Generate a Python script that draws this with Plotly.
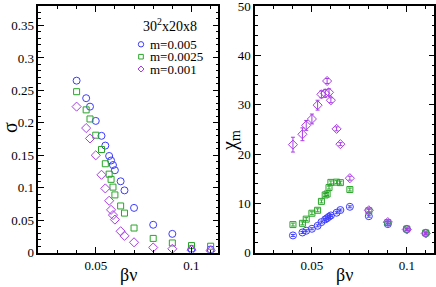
import plotly.graph_objects as go
from plotly.subplots import make_subplots

# ---- data ----
bv = [0.04, 0.045, 0.047, 0.05, 0.053, 0.055, 0.057, 0.058, 0.059, 0.06,
      0.063, 0.065, 0.07, 0.08, 0.09, 0.1, 0.11]

sigma_m005 = [0.265, 0.238, 0.225, 0.203, 0.180, 0.165, 0.149, 0.142, 0.135, 0.127,
              0.110, 0.096, 0.069, 0.043, 0.029, 0.006, 0.005]
sigma_m0025 = [0.248, 0.220, 0.206, 0.181, 0.159, 0.137, 0.121, 0.113, 0.101, 0.089,
               0.072, 0.061, 0.038, 0.022, 0.015, 0.011, 0.010]
sigma_m001 = [0.225, 0.192, 0.176, 0.150, 0.120, 0.099, 0.080, 0.066, 0.058, 0.051,
              0.033, 0.026, 0.016, 0.008, 0.006, 0.004, 0.003]

chi_m005 = [3.5, 4.1, 4.45, 4.85, 5.45, 6.2, 6.75, 7.0, 7.3, 7.55,
            8.1, 8.65, 9.3, 7.4, 5.8, 4.8, 4.0]
chi_m005_err = [0.2, 0.2, 0.2, 0.2, 0.2, 0.2, 0.2, 0.2, 0.2, 0.2,
                0.2, 0.2, 0.2, 0.2, 0.2, 0.2, 0.2]
chi_m0025 = [5.7, 5.95, 6.8, 8.0, 8.6, 10.4, 11.7, 11.9, 13.2, 14.25,
             14.3, 14.2, 12.8, 8.5, 6.1, 4.8, 4.0]
chi_m0025_err = [0.3, 0.3, 0.3, 0.3, 0.3, 0.3, 0.3, 0.3, 0.3, 0.3,
                 0.3, 0.3, 0.3, 0.3, 0.2, 0.2, 0.2]
chi_m001 = [21.9, 24.0, 25.8, 27.1, 29.9, 32.1, 32.3, 34.8, 32.5, 30.9,
            25.1, 22.0, 15.1, 8.6, 6.2, 4.7, 3.9]
chi_m001_err = [1.5, 1.3, 1.0, 1.0, 1.0, 0.7, 0.8, 0.5, 0.7, 0.5,
                0.4, 0.3, 0.4, 0.3, 0.2, 0.2, 0.2]

names = ["m=0.005", "m=0.0025", "m=0.001"]
colors = ["rgb(60,60,255)", "rgb(40,165,40)", "rgb(170,60,230)"]
symbols = ["circle-open", "square-open", "diamond-open"]
sizes = [7, 6, 7]
lattice_label = "30<sup>2</sup>x20x8"
x_title = "βν"
y_titles = ["σ", "χ<sub>m</sub>"]

FONT = "Liberation Serif, Times New Roman, serif"

fig = make_subplots(rows=1, cols=2, horizontal_spacing=0.0)

sig = [sigma_m005, sigma_m0025, sigma_m001]
chi = [chi_m005, chi_m0025, chi_m001]
chierr = [chi_m005_err, chi_m0025_err, chi_m001_err]

for i in range(3):
    fig.add_trace(go.Scatter(
        x=bv, y=sig[i], mode="markers", name=names[i], showlegend=False,
        marker=dict(symbol=symbols[i], size=sizes[i], color=colors[i],
                    line=dict(width=1, color=colors[i]))), row=1, col=1)

for i in range(3):
    fig.add_trace(go.Scatter(
        x=bv, y=chi[i], mode="markers", name=names[i], showlegend=False,
        error_y=dict(type="data", array=chierr[i], color=colors[i],
                     thickness=1, width=2),
        marker=dict(symbol=symbols[i], size=sizes[i], color=colors[i],
                    line=dict(width=1, color=colors[i]))), row=1, col=2)

W, H = 436, 287
def px(xp):
    return xp / W
def py(yp):
    return 1 - yp / H

axis_common = dict(
    showline=True, linecolor="black", linewidth=1.5, mirror="ticks",
    ticks="inside", ticklen=6, tickwidth=1, tickcolor="black",
    showgrid=False, zeroline=False, automargin=False, ticklabeloverflow="allow",
    tickfont=dict(family=FONT, size=13, color="black"),
)

fig.update_xaxes(**axis_common, range=[0.02, 0.114], dtick=0.05, tick0=0,
                 minor=dict(dtick=0.01, tick0=0, ticks="inside", ticklen=3,
                            tickcolor="black", showgrid=False))
fig.update_xaxes(domain=[px(38.3), px(218.3)], row=1, col=1)
fig.update_xaxes(domain=[px(255), px(434.3)], range=[0.02, 0.1145], row=1, col=2)

fig.update_yaxes(**axis_common)
fig.update_yaxes(domain=[py(252.7), py(6)])
fig.update_yaxes(range=[0, 0.38], dtick=0.05, tick0=0,
                 minor=dict(dtick=0.01, tick0=0, ticks="inside", ticklen=3,
                            tickcolor="black", showgrid=False),
                 row=1, col=1)
fig.update_yaxes(range=[0, 50], dtick=10, tick0=0,
                 minor=dict(dtick=2, tick0=0, ticks="inside", ticklen=3,
                            tickcolor="black", showgrid=False),
                 row=1, col=2)

def label(text, x, y, size, **kw):
    d = dict(text=text, x=px(x), y=py(y), xref="paper", yref="paper",
             xanchor="center", yanchor="middle", showarrow=False,
             font=dict(family=FONT, size=size, color="black"))
    d.update(kw)
    return d

annotations = [
    label(x_title, 128.3, 275, 18),
    label(x_title, 344.5, 275, 18),
    label(y_titles[0], 10, 128, 20, textangle=-90),
    label(y_titles[1], 230, 140, 20, textangle=-90),
    label(lattice_label, 170, 25, 14),
]

# legend (drawn manually to match the compact layout)
shapes = []
rows_y = [44.3, 56.7, 69.0]
mx = px(141)
for i in range(3):
    yy = py(rows_y[i])
    annotations.append(label(names[i], 148, rows_y[i], 13, xanchor="left"))
    common = dict(xref="paper", yref="paper", xsizemode="pixel", ysizemode="pixel",
                  xanchor=mx, yanchor=yy, line=dict(color=colors[i], width=1),
                  fillcolor="rgba(0,0,0,0)")
    if i == 0:
        shapes.append(dict(type="circle", x0=-2.7, x1=2.7, y0=-2.7, y1=2.7, **common))
    elif i == 1:
        shapes.append(dict(type="rect", x0=-2.3, x1=2.3, y0=-2.3, y1=2.3, **common))
    else:
        shapes.append(dict(type="path", path="M -3 0 L 0 3 L 3 0 L 0 -3 Z", **common))

fig.update_layout(
    width=W, height=H, margin=dict(l=0, r=0, t=0, b=0, autoexpand=False),
    paper_bgcolor="white", plot_bgcolor="white",
    font=dict(family=FONT, color="black"),
    annotations=annotations, shapes=shapes, showlegend=False,
)

fig.write_html("out.html", config={"displayModeBar": False},
               post_script="document.body.style.margin='0';document.body.style.overflow='hidden';")
